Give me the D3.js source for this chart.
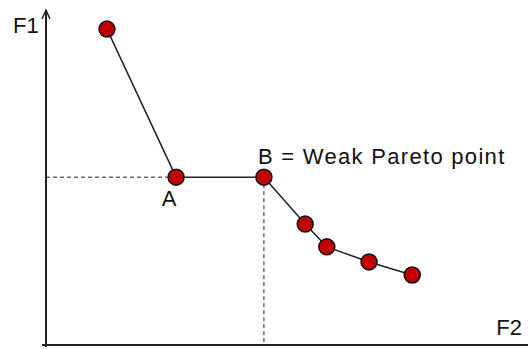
<!DOCTYPE html>
<html>
<head>
<meta charset="utf-8">
<script src="https://cdn.jsdelivr.net/npm/d3@7/dist/d3.min.js"></script>
<style>
  html, body { margin: 0; padding: 0; background: #fff; }
  svg { display: block; }
  text { font-family: "Liberation Sans", Arial, sans-serif; fill: #111; }
</style>
</head>
<body>
<svg id="chart" width="528" height="349"></svg>
<script>
// Objective values of the candidate solutions (F2 horizontal, F1 vertical)
const f2Values = [12.7, 27.1, 45.4, 54.0, 58.5, 67.3, 76.3];
const f1Values = [94.3, 50.1, 50.1, 36.1, 29.3, 24.8, 20.9];
const pointNames = ["", "A", "B", "", "", "", ""];
const axisLabels = ["F1", "F2"];
const weakLabel = "B = Weak Pareto point";

const W = 528, H = 349;
const svg = d3.select("#chart");

const x = d3.scaleLinear().domain([0, 100]).range([46, 526]);
const y = d3.scaleLinear().domain([0, 100]).range([345, 10]);

const pts = f2Values.map((v, i) => ({ f2: v, f1: f1Values[i], name: pointNames[i] }));
const A = pts[1], B = pts[2];

// Dashed guides from A to the F1 axis and from B to the F2 axis
svg.append("line")
  .attr("x1", x(0)).attr("x2", x(A.f2))
  .attr("y1", y(A.f1)).attr("y2", y(A.f1))
  .attr("stroke", "#222").attr("stroke-width", 1)
  .attr("stroke-dasharray", "4,3");
svg.append("line")
  .attr("x1", x(B.f2)).attr("x2", x(B.f2))
  .attr("y1", y(B.f1)).attr("y2", y(0))
  .attr("stroke", "#222").attr("stroke-width", 1)
  .attr("stroke-dasharray", "4,3");

// Axes
svg.append("line")
  .attr("x1", x(0)).attr("x2", x(0))
  .attr("y1", y(0) + 2).attr("y2", y(100))
  .attr("stroke", "#222").attr("stroke-width", 2);
svg.append("path")
  .attr("d", `M${x(0) - 4},${y(100) + 9} L${x(0)},${y(100)} L${x(0) + 4},${y(100) + 9}`)
  .attr("fill", "none").attr("stroke", "#222").attr("stroke-width", 1.5);
svg.append("line")
  .attr("x1", x(0) - 4).attr("x2", W)
  .attr("y1", y(0)).attr("y2", y(0))
  .attr("stroke", "#222").attr("stroke-width", 2);

// Front line through the solutions
const line = d3.line().x(d => x(d.f2)).y(d => y(d.f1));
svg.append("path")
  .datum(pts)
  .attr("d", line)
  .attr("fill", "none")
  .attr("stroke", "#222")
  .attr("stroke-width", 1.5);

// Solution markers
svg.selectAll("circle.pt")
  .data(pts)
  .join("circle")
  .attr("class", "pt")
  .attr("cx", d => x(d.f2))
  .attr("cy", d => y(d.f1))
  .attr("r", 8)
  .attr("fill", "#c00000")
  .attr("stroke", "#111")
  .attr("stroke-width", 1.5);

// Labels
svg.append("text").attr("x", 13).attr("y", 33)
  .attr("font-size", 22).text(axisLabels[0]);
svg.append("text").attr("x", 522).attr("y", 335)
  .attr("text-anchor", "end").attr("font-size", 22).text(axisLabels[1]);
svg.append("text").attr("x", x(A.f2) - 7).attr("y", y(A.f1) + 29)
  .attr("text-anchor", "middle").attr("font-size", 22).text(A.name);
svg.append("text").attr("x", x(B.f2) - 6).attr("y", y(B.f1) - 13)
  .attr("font-size", 22).attr("letter-spacing", 1.3).text(weakLabel);
</script>
</body>
</html>
